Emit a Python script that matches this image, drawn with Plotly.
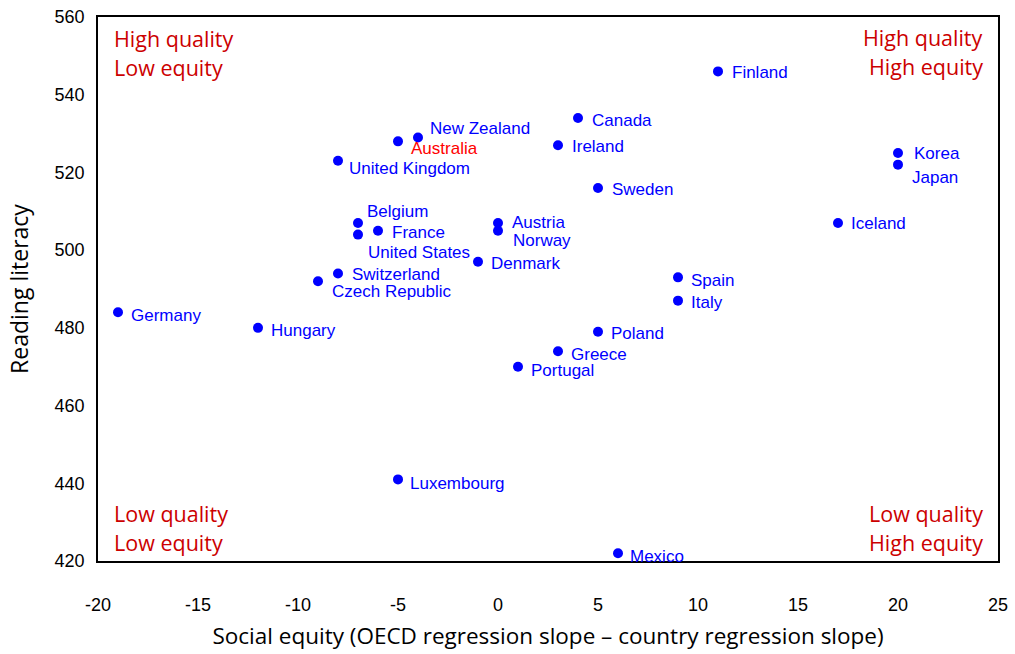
import plotly.graph_objects as go

countries = ["Finland", "Canada", "Ireland", "Sweden", "Korea", "Japan", "Iceland",
             "Austria", "Norway", "Denmark", "Spain", "Italy", "Poland", "Greece",
             "Portugal", "Mexico", "Luxembourg", "Germany", "Hungary", "Switzerland",
             "Czech Republic", "Belgium", "France", "United States", "United Kingdom",
             "Australia", "New Zealand"]
equity = [11, 4, 3, 5, 20, 20, 17,
          0, 0, -1, 9, 9, 5, 3,
          1, 6, -5, -19, -12, -8,
          -9, -7, -6, -7, -8,
          -5, -4]
reading = [546, 534, 527, 516, 525, 522, 507,
           507, 505, 497, 493, 487, 479, 474,
           470, 422, 441, 484, 480, 494,
           492, 507, 505, 504, 523,
           528, 529]

x_tickvals = [-20, -15, -10, -5, 0, 5, 10, 15, 20, 25]
x_ticktext = ["-20", "-15", "-10", "-5", "0", "5", "10", "15", "20", "25"]
y_tickvals = [420, 440, 460, 480, 500, 520, 540, 560]
y_ticktext = ["420", "440", "460", "480", "500", "520", "540", "560"]

# label offsets (pixels) : style only
label_dx = [12, 12, 12, 12, 14, 12, 11,
            12, 13, 11, 11, 11, 11, 11,
            11, 10, 10, 11, 11, 12,
            12, 7, 12, 8, 9,
            11, 10]
label_dy = [-1, -2, -1, -2, 0, -13, -1,
            0, -10, -2, -3, -2, -2, -3,
            -4, -3, -4, -3, -3, -1,
            -10, 11, -2, -18, -8,
            -7, 9]
label_color = ["#0000ff"] * len(countries)
label_color[countries.index("Australia")] = "#ff0000"

quadrant_lines = [["High quality", "Low equity"], ["High quality", "High equity"],
                  ["Low quality", "Low equity"], ["Low quality", "High equity"]]

LABEL_FONT = "Liberation Sans, Arial, sans-serif"
COMIC_FONT = "Open Sans, sans-serif"

fig = go.Figure()
fig.add_trace(go.Scatter(
    x=equity, y=reading, mode="markers",
    marker=dict(color="#0000ff", size=10, symbol="circle"),
    hoverinfo="text", text=countries, showlegend=False,
))

for c, xv, yv, dx, dy, col in zip(countries, equity, reading, label_dx, label_dy, label_color):
    fig.add_annotation(x=xv, y=yv, xref="x", yref="y", text=c, showarrow=False,
                       xanchor="left", yanchor="middle", xshift=dx, yshift=dy,
                       font=dict(family=LABEL_FONT, size=17, color=col))

# quadrant captions: (x paper, anchor, y paper of line centres)
qpos = [(0.0156, "left", (0.9596, 0.9063)), (0.9856, "right", (0.9632, 0.9099)),
        (0.0156, "left", (0.0882, 0.0349)), (0.9856, "right", (0.0882, 0.0349))]
for lines, (px, xa, ys) in zip(quadrant_lines, qpos):
    for line, py in zip(lines, ys):
        fig.add_annotation(x=px, y=py, xref="paper", yref="paper", text=line,
                           showarrow=False, xanchor=xa, yanchor="middle",
                           font=dict(family=COMIC_FONT, size=21.5, color="#cc0000"))

fig.update_layout(
    width=1015, height=654,
    margin=dict(l=98, r=17, t=17, b=93, autoexpand=False),
    paper_bgcolor="white", plot_bgcolor="white",
    xaxis=dict(range=[-20, 25], tickvals=x_tickvals, ticktext=x_ticktext,
               showgrid=False, zeroline=False, automargin=False,
               showline=True, mirror=True, linecolor="black", linewidth=1.5,
               ticks="", ticklen=0, ticklabelstandoff=27,
               tickfont=dict(family=LABEL_FONT, size=18, color="black"),
               title=dict(text="Social equity (OECD regression slope \u2013 country regression slope)",
                          font=dict(family=COMIC_FONT, size=22.5, color="black"), standoff=14)),
    yaxis=dict(range=[420, 560], tickvals=y_tickvals, ticktext=y_ticktext,
               showgrid=False, zeroline=False, automargin=False,
               showline=True, mirror=True, linecolor="black", linewidth=1.5,
               ticks="", ticklen=0, ticklabelstandoff=8,
               tickfont=dict(family=LABEL_FONT, size=18, color="black"),
               title=dict(text="Reading literacy",
                          font=dict(family=COMIC_FONT, size=23, color="black"), standoff=20)),
    xaxis2=dict(overlaying="x", matches="x", anchor="free", position=(500 - 420) / 140,
                side="bottom", range=[-20, 25], tickvals=x_tickvals, showgrid=False,
                zeroline=False, showline=True, linecolor="black", linewidth=1,
                ticks="inside", ticklen=5, tickcolor="black", showticklabels=False),
    yaxis2=dict(overlaying="y", matches="y", anchor="free", position=20 / 45,
                side="left", range=[420, 560], tickvals=y_tickvals, showgrid=False,
                zeroline=False, showline=True, linecolor="#808080", linewidth=2,
                ticks="outside", ticklen=5, tickcolor="black", showticklabels=False),
)

fig.write_html("out.html", config={"displayModeBar": False},
               post_script="document.body.style.margin='0';")
